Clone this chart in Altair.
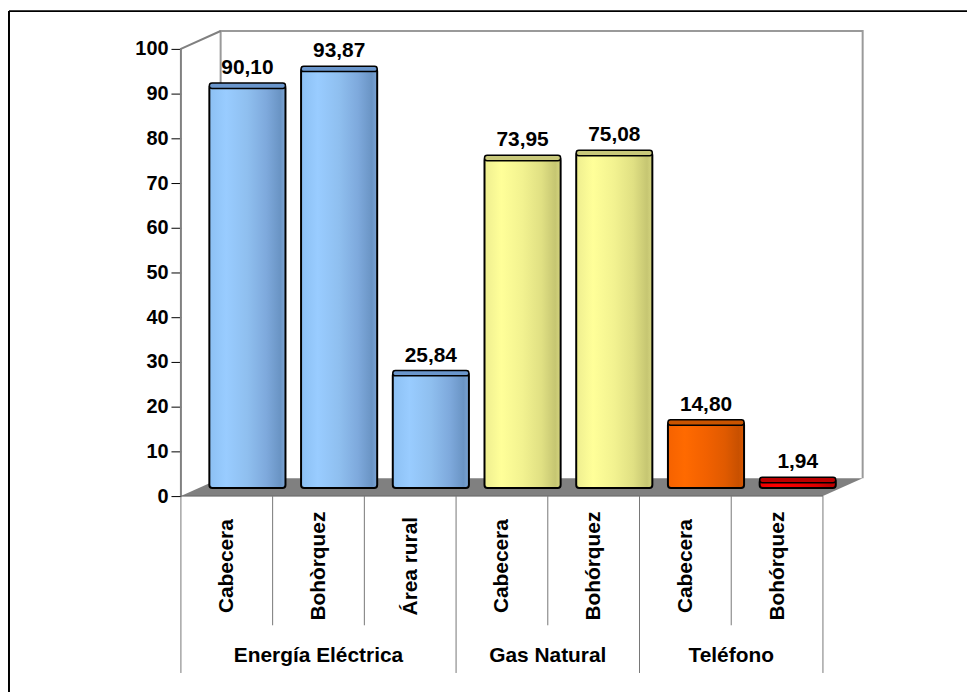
import json
import altair as alt
import pandas as pd

# ---------------- data ----------------
categories = ["Cabecera", "Bohòrquez", "Área rural", "Cabecera", "Bohórquez", "Cabecera", "Bohórquez"]
groups = ["Energía Eléctrica", "Energía Eléctrica", "Energía Eléctrica",
          "Gas Natural", "Gas Natural", "Teléfono", "Teléfono"]
values = [90.10, 93.87, 25.84, 73.95, 75.08, 14.80, 1.94]
palette_keys = ["blue", "blue", "blue", "yellow", "yellow", "orange", "red"]
y_ticks = [0, 10, 20, 30, 40, 50, 60, 70, 80, 90, 100]
group_names = ["Energía Eléctrica", "Gas Natural", "Teléfono"]
group_spans = [(0, 3), (3, 5), (5, 7)]

# ---------------- style ----------------
FONT = "Liberation Sans"
GRADIENTS = {
    "blue": [("#8cc0f3", 0), ("#99ccff", 0.22), ("#8fbfef", 0.5), ("#7ea9dc", 0.75), ("#6a94c4", 0.93), ("#7ba4d4", 1)],
    "yellow": [("#eeee90", 0), ("#ffff99", 0.22), ("#f2f290", 0.5), ("#e0e083", 0.75), ("#c6c672", 0.93), ("#d6d680", 1)],
    "orange": [("#f56200", 0), ("#ff6a00", 0.22), ("#f26100", 0.5), ("#e05a00", 0.75), ("#c85000", 0.93), ("#d85800", 1)],
    "red": [("#ee0000", 0), ("#ff0000", 0.22), ("#f00000", 0.5), ("#dd0000", 0.75), ("#bb0000", 0.93), ("#cc0000", 1)],
}
CAP = {"blue": "#6a96cc", "yellow": "#c8c87a", "orange": "#c85400", "red": "#bb0000"}

DEPTH_X = 0.433   # 3-D depth offset, x units
DEPTH_Y = 4.0     # 3-D depth offset, y units
BASE = 1.8
CAP_H = 0.75
N = len(categories)
XMAX = N + DEPTH_X
W, H = 686, 468
PAD_L, PAD_T = 174, 21

xs = alt.Scale(domain=[0, XMAX], nice=False, zero=False)
ys = alt.Scale(domain=[0, 100 + DEPTH_Y], nice=False, zero=False)

label_expr = json.dumps(categories, ensure_ascii=False) + "[floor(datum.value)]"
X_AX = alt.Axis(
    values=[i + 0.5 for i in range(N)], labelExpr=label_expr, title=None,
    labelAngle=270, labelAlign="center", labelBaseline="middle",
    labelPadding=70, ticks=False, tickSize=0, domain=False, grid=False,
    labelFont=FONT, labelFontSize=21, labelFontWeight="bold", labelColor="black",
    labelOverlap=False, labelFlush=False)
Y_AX = alt.Axis(
    values=y_ticks, title=None, ticks=True, tickSize=10, tickColor="black", tickWidth=1,
    labelPadding=3, domain=False, grid=False,
    labelFont=FONT, labelFontSize=20, labelFontWeight="bold", labelColor="black")


def X(f):
    return alt.X(f, scale=xs, axis=X_AX, title=None)


def Y(f):
    return alt.Y(f, scale=ys, axis=Y_AX, title=None)


bars = pd.DataFrame({
    "idx": list(range(N)),
    "cat": categories,
    "grp": groups,
    "val": values,
    "pal": palette_keys,
})
bars["x0"] = bars["idx"] + 0.31
bars["x1"] = bars["idx"] + 1.14
bars["xc"] = (bars["x0"] + bars["x1"]) / 2
bars["y0"] = BASE
bars["yt"] = bars["val"] + BASE
bars["c0"] = bars["yt"] - CAP_H
bars["c1"] = bars["yt"] + CAP_H * 0.6
bars["cap"] = [CAP[k] for k in palette_keys]
bars["lab"] = [f"{v:.2f}".replace(".", ",") for v in values]

# floor (gray parallelogram)
floor = pd.DataFrame({
    "fx": [0, DEPTH_X, N, XMAX],
    "fy": [0, 0, 0, DEPTH_Y],
    "fy2": [0, DEPTH_Y, DEPTH_Y, DEPTH_Y],
})
floor_layer = alt.Chart(floor).mark_area(color="#808080", opacity=1).encode(
    x=X("fx:Q"), y=Y("fy:Q"), y2="fy2:Q")

# back wall outline and left axis line with diagonal
wall2 = pd.DataFrame({
    "wx": [DEPTH_X, DEPTH_X, XMAX, XMAX],
    "wy": [DEPTH_Y, 100 + DEPTH_Y, 100 + DEPTH_Y, DEPTH_Y],
    "o": [0, 1, 2, 3],
})
axis_line = pd.DataFrame({"wx": [0, 0, DEPTH_X], "wy": [0, 100, 100 + DEPTH_Y], "o": [0, 1, 2]})
wall_layer = alt.Chart(wall2).mark_line(color="#9a9a9a", strokeWidth=2).encode(
    x=X("wx:Q"), y=Y("wy:Q"), order="o:Q")
axis_layer = alt.Chart(axis_line).mark_line(color="#808080", strokeWidth=2).encode(
    x=X("wx:Q"), y=Y("wy:Q"), order="o:Q")

# category separators below the floor
seps = pd.DataFrame({"sx": list(range(N + 1))})
group_edges = sorted({a for a, b in group_spans} | {b for a, b in group_spans})
seps["outer"] = seps["sx"].isin(group_edges)
sep_inner = alt.Chart(seps).transform_filter("!datum.outer").mark_rule(color="#777777", strokeWidth=1).encode(
    x=X("sx:Q"), y=alt.value(H), y2=alt.value(598))
sep_outer = alt.Chart(seps).transform_filter("datum.outer").mark_rule(color="#777777", strokeWidth=1).encode(
    x=X("sx:Q"), y=alt.value(H), y2=alt.value(646))
front_edge = alt.Chart(pd.DataFrame({"a": [0], "b": [N], "z": [0]})).mark_rule(color="#666666", strokeWidth=1).encode(
    x=X("a:Q"), x2="b:Q", y=Y("z:Q"))

# bars per palette (gradient fill)
bar_layers = []
for key, stops in GRADIENTS.items():
    grad = alt.LinearGradient(gradient="linear", x1=0, x2=1, y1=0, y2=0,
                              stops=[alt.GradientStop(color=c, offset=o) for c, o in stops])
    bar_layers.append(
        alt.Chart(bars).transform_filter(alt.datum.pal == key)
        .mark_rect(fill=grad, stroke="black", strokeWidth=2, cornerRadius=3)
        .encode(x=X("x0:Q"), x2="x1:Q", y=Y("y0:Q"), y2="yt:Q")
    )

caps = alt.Chart(bars).mark_rect(stroke="black", strokeWidth=1.5, cornerRadius=3).encode(
    x=X("x0:Q"), x2="x1:Q", y=Y("c0:Q"), y2="c1:Q",
    fill=alt.Fill("cap:N", scale=None),
)

value_labels = alt.Chart(bars).mark_text(
    font=FONT, fontSize=21, fontWeight="bold", color="black", baseline="alphabetic", dy=-9
).encode(x=X("xc:Q"), y=Y("c1:Q"), text="lab:N")

gdf = pd.DataFrame({"g": group_names, "gx": [(a + b) / 2 for a, b in group_spans]})
group_labels = alt.Chart(gdf).mark_text(
    font=FONT, fontSize=21, fontWeight="bold", color="black", baseline="middle"
).encode(x=X("gx:Q"), y=alt.value(629), text="g:N")

# outer frame (top and left edges visible)
frame = pd.DataFrame({"k": [0]})
frame_top = alt.Chart(frame).mark_rule(color="black", strokeWidth=2).encode(
    x=alt.value(-PAD_L + 1), x2=alt.value(W + 200), y=alt.value(-PAD_T + 1))
frame_left = alt.Chart(frame).mark_rule(color="black", strokeWidth=2).encode(
    x=alt.value(-PAD_L + 1), y=alt.value(-PAD_T + 1), y2=alt.value(H + 300))

chart = alt.layer(
    floor_layer, wall_layer, axis_layer, front_edge, sep_inner, sep_outer,
    *bar_layers, caps, value_labels, group_labels, frame_top, frame_left,
).properties(
    width=W, height=H,
    autosize=alt.AutoSizeParams(type="none"),
    padding={"left": PAD_L, "top": PAD_T, "right": 965 - PAD_L - W, "bottom": 684 - PAD_T - H},
    background="white",
).configure_view(strokeWidth=0)

chart.save("out.html", embed_options={"renderer": "svg", "actions": False})
